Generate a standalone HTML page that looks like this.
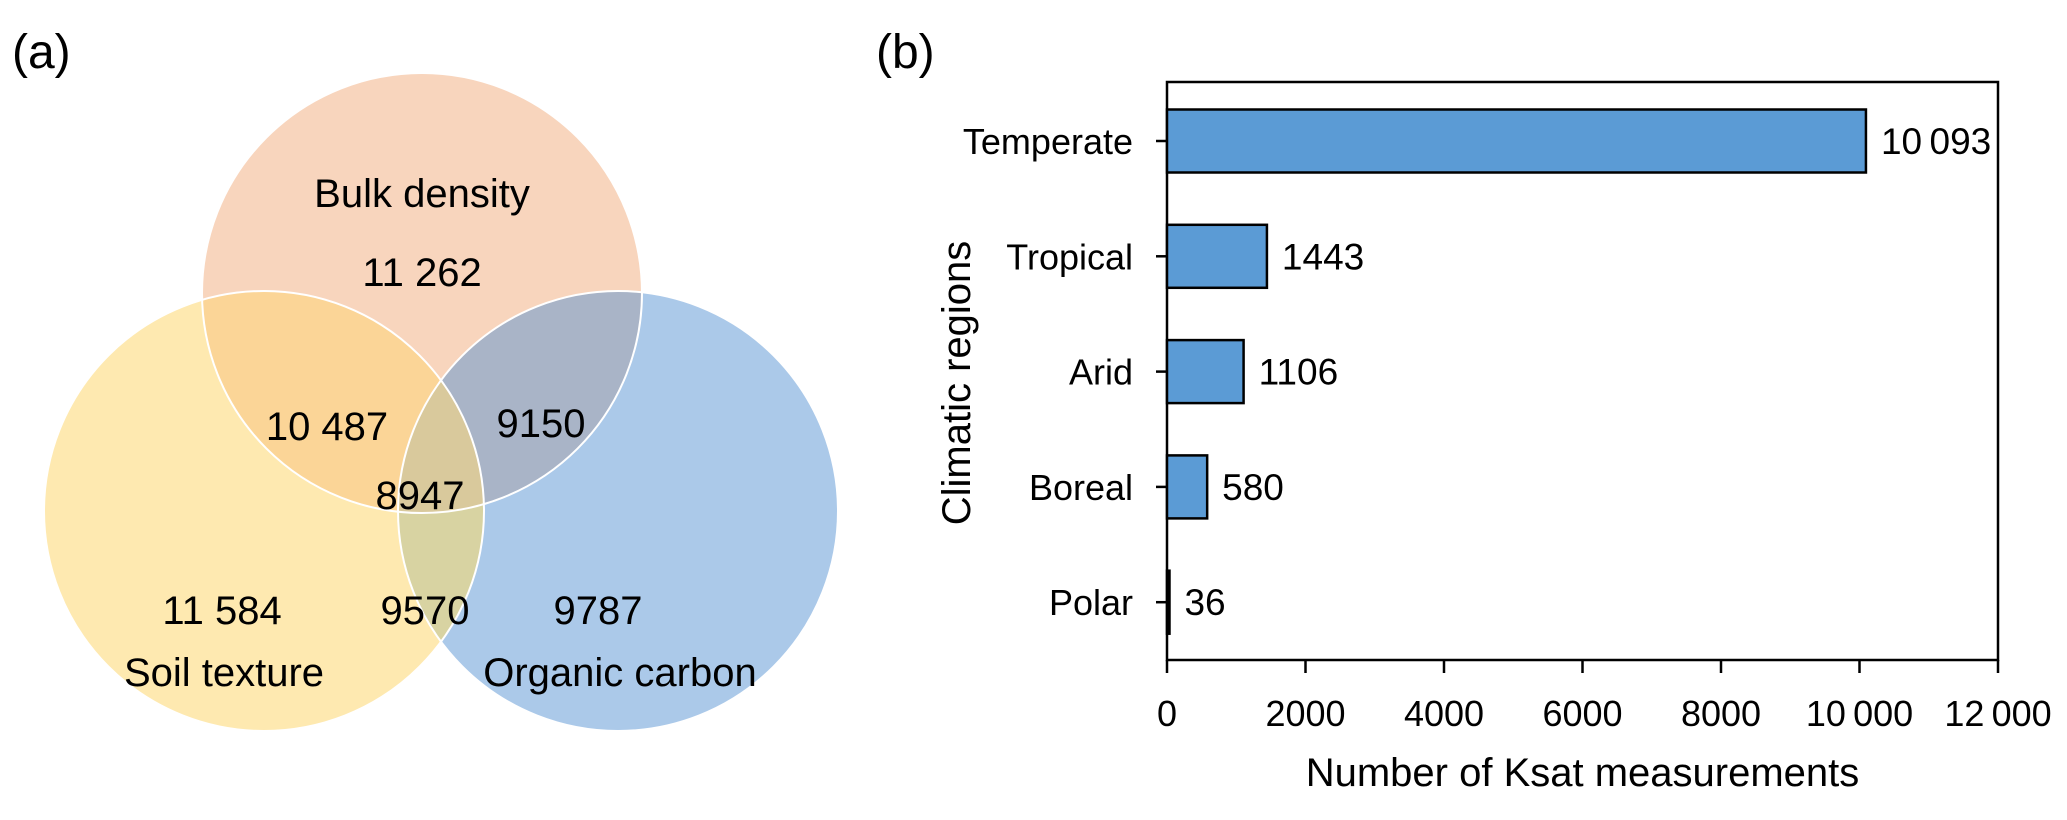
<!DOCTYPE html>
<html><head><meta charset="utf-8"><style>
html,body{margin:0;padding:0;background:#fff;}
svg{display:block;font-family:"Liberation Sans",sans-serif;}
</style></head><body>
<svg id="fig" width="2067" height="820" viewBox="0 0 2067 820" xmlns="http://www.w3.org/2000/svg">
<defs>
<clipPath id="cTop"><circle cx="422" cy="293" r="220"/></clipPath>
<clipPath id="cLeft"><circle cx="264" cy="511" r="220"/></clipPath>
<clipPath id="cRight"><circle cx="618" cy="511" r="220"/></clipPath>
</defs>
<text x="12" y="68" font-size="48">(a)</text>
<text x="876" y="68" font-size="48">(b)</text>
<g>
<circle cx="422" cy="293" r="220" fill="#f8d5bd"/>
<circle cx="264" cy="511" r="220" fill="#fee9b0"/>
<circle cx="618" cy="511" r="220" fill="#abc9e9"/>
<g clip-path="url(#cTop)"><circle cx="264" cy="511" r="220" fill="#fbd597"/></g>
<g clip-path="url(#cTop)"><circle cx="618" cy="511" r="220" fill="#a9b4c7"/></g>
<g clip-path="url(#cLeft)"><circle cx="618" cy="511" r="220" fill="#d8d3a2"/></g>
<g clip-path="url(#cTop)"><g clip-path="url(#cLeft)"><circle cx="618" cy="511" r="220" fill="#d9c99c"/></g></g>
<circle cx="422" cy="293" r="220" fill="none" stroke="#fff" stroke-width="2"/>
<circle cx="264" cy="511" r="220" fill="none" stroke="#fff" stroke-width="2"/>
<circle cx="618" cy="511" r="220" fill="none" stroke="#fff" stroke-width="2"/>
<g font-size="40" text-anchor="middle" fill="#000">
<text x="422" y="207">Bulk density</text>
<text x="422" y="286">11 262</text>
<text x="327" y="440">10 487</text>
<text x="541" y="437">9150</text>
<text x="420" y="509">8947</text>
<text x="222" y="624">11 584</text>
<text x="425" y="624">9570</text>
<text x="598" y="624">9787</text>
<text x="224" y="686">Soil texture</text>
<text x="620" y="686">Organic carbon</text>
</g>
</g>
<g id="bars"></g>
</svg>
<script>
const categories = ["Temperate","Tropical","Arid","Boreal","Polar"];
const counts = [10093, 1443, 1106, 580, 36];
const countLabels = ["10\u2009093","1443","1106","580","36"];
const xTicks = [0,2000,4000,6000,8000,10000,12000];
const xTickLabels = ["0","2000","4000","6000","8000","10\u2009000","12\u2009000"];

const NS = "http://www.w3.org/2000/svg";
const g = document.getElementById("bars");
const X0 = 1167, X1 = 1998, Y0 = 82, Y1 = 660;
const xMax = 12000;
function xScale(v){ return X0 + (X1 - X0) * v / xMax; }
const bandTop = 141, bandStep = 115.3, barH = 63;
function yScale(i){ return bandTop + i * bandStep; }
function mk(tag, attrs, text){
  const e = document.createElementNS(NS, tag);
  for (const k in attrs) e.setAttribute(k, attrs[k]);
  if (text !== undefined) e.textContent = text;
  g.appendChild(e);
  return e;
}
let fr = mk("rect", {x:X0, y:Y0, width:X1-X0, height:Y1-Y0, fill:"none", stroke:"#000", "stroke-width":2.5});


categories.forEach((c, i) => {
  const yc = yScale(i);
  const w = xScale(counts[i]) - X0;
  const b = mk("rect", {x:X0, y:yc - barH/2, width:Math.max(w, 1.5), height:barH, fill:"#5b9bd5", stroke:"#000", "stroke-width":2.5});
  
  
  const t = mk("line", {x1:X0 - 11, x2:X0, y1:yc, y2:yc, stroke:"#000", "stroke-width":2.5});
  
  
  const l = mk("text", {x:X0 - 34, y:yc + 13, "font-size":36, "text-anchor":"end"}, c);
  
  
  const v = mk("text", {x:xScale(counts[i]) + 15, y:yc + 13, "font-size":37}, countLabels[i]);
  
  
});
xTicks.forEach((v, i) => {
  const x = xScale(v);
  const t = mk("line", {x1:x, x2:x, y1:Y1, y2:Y1 + 13, stroke:"#000", "stroke-width":2.5});
  
  
  const l = mk("text", {x:x, y:Y1 + 66, "font-size":36, "text-anchor":"middle"}, xTickLabels[i]);
  
  
});
const xt = mk("text", {x:(X0 + X1)/2, y:786, "font-size":40, "text-anchor":"middle"}, "Number of Ksat measurements");


const yt = mk("text", {x:0, y:0, "font-size":40, "text-anchor":"middle", transform:"translate(970,383) rotate(-90)"}, "Climatic regions");


</script>
</body></html>
